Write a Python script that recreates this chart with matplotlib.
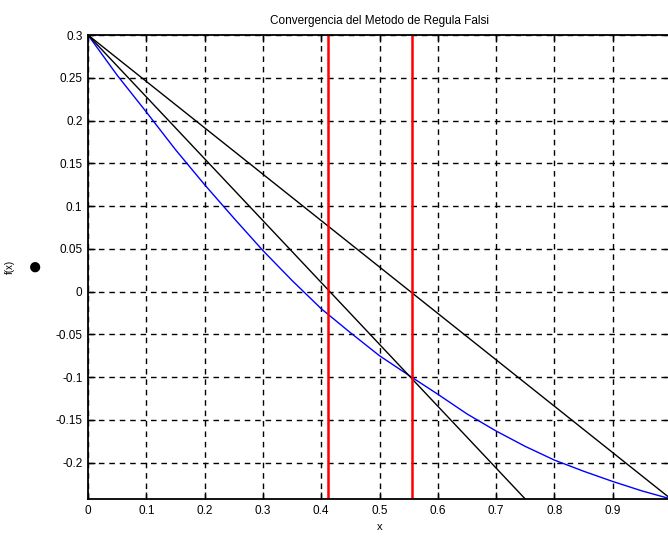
import matplotlib
matplotlib.use('Agg')
import matplotlib.pyplot as plt

plt.rcParams['font.family'] = ['Liberation Sans', 'DejaVu Sans']

# curva f(x)
x_f = [0.0, 0.05, 0.1, 0.15, 0.2, 0.25, 0.3, 0.35, 0.4, 0.45, 0.5, 0.555,
       0.6, 0.65, 0.7, 0.75, 0.8, 0.85, 0.9, 0.95, 1.0]
y_f = [0.3, 0.253, 0.21, 0.166, 0.125, 0.086, 0.048, 0.013, -0.02, -0.048,
       -0.075, -0.1, -0.12, -0.143, -0.163, -0.181, -0.197, -0.21, -0.222,
       -0.233, -0.2425]

# rectas secantes (regula falsi)
sec1_x = [0.0, 1.0]
sec1_y = [0.3, -0.2425]
sec2_x = [0.0, 0.75]
sec2_y = [0.3, -0.2425]

# aproximaciones de la raiz
raices = [0.4125, 0.555]

fig = plt.figure(figsize=(6.68, 5.41), dpi=100)
ax = fig.add_axes([88 / 668, 1 - 499 / 541, 583 / 668, 464 / 541])

ax.plot(x_f, y_f, color='blue', lw=1)
ax.plot(sec1_x, sec1_y, color='black', lw=1)
ax.plot(sec2_x, sec2_y, color='black', lw=1)
for r in raices:
    ax.plot([r, r], [-0.2425, 0.3], color='red', lw=1.8)

ax.set_xlim(0, 1)
ax.set_ylim(-0.2425, 0.3)
ax.set_xticks([0, 0.1, 0.2, 0.3, 0.4, 0.5, 0.6, 0.7, 0.8, 0.9])
ax.set_xticklabels(['0', '0.1', '0.2', '0.3', '0.4', '0.5', '0.6', '0.7', '0.8', '0.9'])
ax.set_yticks([-0.2, -0.15, -0.1, -0.05, 0, 0.05, 0.1, 0.15, 0.2, 0.25, 0.3])
ax.set_yticklabels(['-0.2', '-0.15', '-0.1', '-0.05', '0', '0.05', '0.1', '0.15',
                    '0.2', '0.25', '0.3'])
ax.tick_params(direction='in', top=True, right=True, length=5, labelsize=8.5,
               width=1, pad=4)
ax.grid(True, color='black', linestyle=(0, (4, 3.5)), lw=1)
for s in ax.spines.values():
    s.set_linewidth(1.3)

ax.set_title('Convergencia del Metodo de Regula Falsi', fontsize=8.5, pad=8)
ax.set_xlabel('x', fontsize=8, labelpad=4)
ax.set_ylabel('f(x)', fontsize=7)
ax.yaxis.set_label_coords((15 - 88) / 583, 0.5)
fig.text(35 / 668, 1 - 268 / 541, '\u25cf', fontsize=17, ha='center', va='center')

fig.savefig('out.png', dpi=100)
